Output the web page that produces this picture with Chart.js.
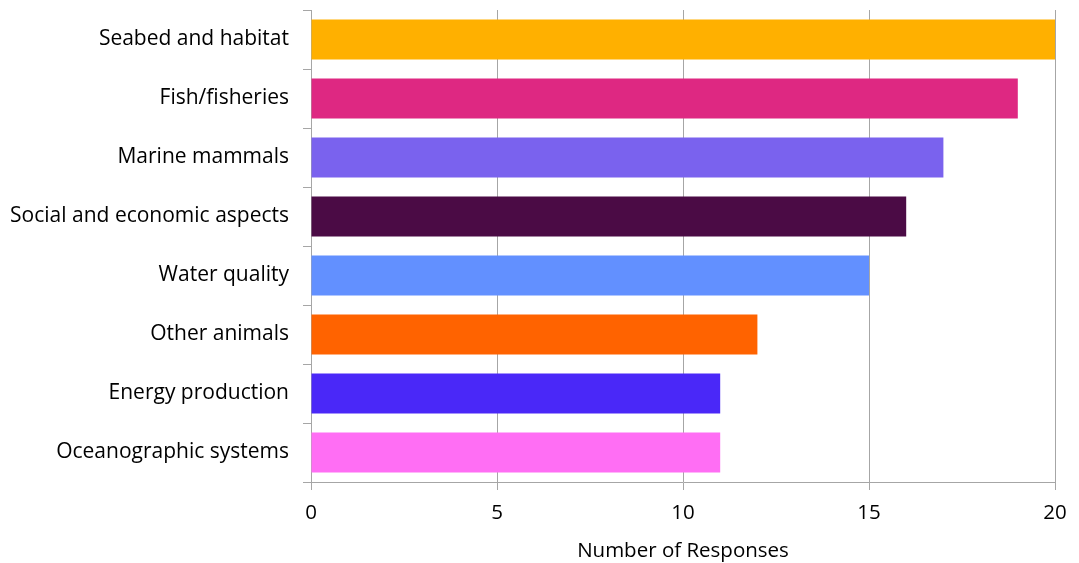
<!DOCTYPE html>
<html>
<head>
<meta charset="utf-8">
<script src="https://cdn.jsdelivr.net/npm/chart.js@4"></script>
<style>
  html, body { margin: 0; padding: 0; background: #fff; }
  #wrap { width: 1079px; height: 563px; }
</style>
</head>
<body>
<div id="wrap"><canvas id="chart"></canvas></div>
<script>
const categories = [
  "Seabed and habitat",
  "Fish/fisheries",
  "Marine mammals",
  "Social and economic aspects",
  "Water quality",
  "Other animals",
  "Energy production",
  "Oceanographic systems"
];
const responses = [20, 19, 17, 16, 15, 12, 11, 11];
const barColors = ["#FFB000", "#DE2882", "#7A62EE", "#4B0B45", "#6290FF", "#FF6300", "#4A28F8", "#FF6EF4"];
const xTicks = [0, 5, 10, 15, 20];

const FONT = "'Open Sans', sans-serif";
const FONT_SIZE = 21;
const gridGray = "#a6a6a6";

new Chart(document.getElementById("chart"), {
  type: "bar",
  data: {
    labels: categories,
    datasets: [{
      data: responses,
      backgroundColor: barColors,
      borderWidth: 0,
      categoryPercentage: 1,
      barPercentage: 0.68
    }]
  },
  options: {
    indexAxis: "y",
    responsive: true,
    maintainAspectRatio: false,
    animation: false,
    layout: { padding: { top: 10, right: 24, bottom: 0, left: 0 } },
    plugins: {
      legend: { display: false },
      tooltip: { enabled: false }
    },
    scales: {
      x: {
        min: 0,
        max: 20,
        afterBuildTicks: (axis) => { axis.ticks = xTicks.map(v => ({ value: v })); },
        afterFit: (axis) => { axis.height = 81; },
        grid: { color: gridGray, lineWidth: 1, tickLength: 8, drawOnChartArea: true },
        border: { color: gridGray, width: 1 },
        ticks: { color: "#000", font: { family: FONT, size: 20.5 }, padding: 11, maxRotation: 0 },
        title: {
          display: true,
          text: "Number of Responses",
          color: "#000",
          font: { family: FONT, size: 20.5 },
          padding: { top: 2, bottom: 0 }
        }
      },
      y: {
        afterFit: (axis) => {
          axis.width = 311;
          axis.paddingTop = 0;
          axis.paddingBottom = 0;
        },
        grid: { color: gridGray, lineWidth: 1, tickLength: 8, drawOnChartArea: false, offset: true },
        border: { color: gridGray, width: 1 },
        ticks: { color: "#000", font: { family: FONT, size: FONT_SIZE }, padding: 14, autoSkip: false }
      }
    }
  }
});
</script>
</body>
</html>
